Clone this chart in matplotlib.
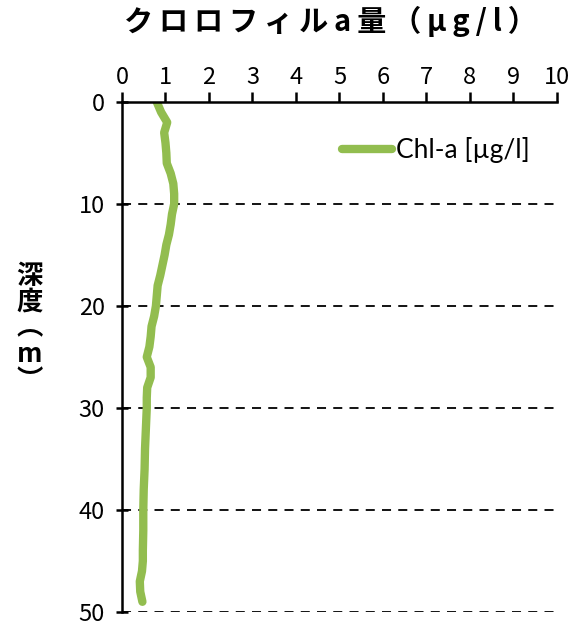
import matplotlib
matplotlib.use('Agg')
import matplotlib.pyplot as plt

plt.rcParams['font.family'] = ['Noto Sans CJK JP', 'DejaVu Sans']

# depth (m) and chlorophyll-a (ug/l)
depth = [0, 1, 2, 3, 4, 5, 6, 7, 8, 9, 10, 11, 12, 13, 14, 15, 16, 17, 18, 19,
         20, 21, 22, 23, 24, 25, 26, 27, 28, 29, 30, 32, 34, 36, 38, 40, 42, 44,
         45, 46, 47, 48, 49]
chla = [0.80, 0.90, 1.04, 0.97, 1.00, 1.02, 1.03, 1.12, 1.18, 1.20, 1.20, 1.15,
        1.12, 1.08, 1.02, 0.98, 0.93, 0.88, 0.82, 0.80, 0.78, 0.74, 0.68, 0.66,
        0.63, 0.57, 0.66, 0.66, 0.58, 0.57, 0.57, 0.55, 0.53, 0.52, 0.50, 0.49,
        0.49, 0.48, 0.48, 0.46, 0.41, 0.42, 0.47]
xticks = list(range(0, 11))
yticks = [0, 10, 20, 30, 40, 50]

fig = plt.figure(figsize=(5.85, 6.25), dpi=100)
ax = fig.add_axes([0.2085, 0.0208, 0.952 - 0.2085, 0.8368 - 0.0208])

ax.plot(chla, depth, color='#92BD4F', lw=6, solid_capstyle='round',
        solid_joinstyle='round', label='Chl-a [µg/l]')

ax.set_xlim(0, 10)
ax.set_ylim(50, 0)
ax.xaxis.tick_top()
ax.set_xticks(xticks)
ax.set_yticks(yticks)
ax.tick_params(axis='x', direction='out', length=7, width=1.8, labelsize=17, pad=2)
ax.tick_params(axis='y', direction='inout', length=9, width=1.8, labelsize=17, pad=8)

for y in yticks[1:]:
    ax.axhline(y, color='black', lw=1.3, ls=(0, (5, 4)), zorder=0)

for s in ['right', 'bottom']:
    ax.spines[s].set_visible(False)
for s in ['top', 'left']:
    ax.spines[s].set_linewidth(1.8)

title = 'クロロフィルa量（μg/l）'
fig.text(0.565, 0.965, '\u2009'.join(title), ha='center', va='center',
         fontsize=21, fontweight='bold', family=['Noto Sans CJK JP', 'DejaVu Sans'])
fig.text(0.05, 0.475, '深\n度\n︵\nm\n︶', ha='center', va='center',
         fontsize=19, fontweight='bold', linespacing=0.95)

leg = ax.legend(loc='center left', bbox_to_anchor=(0.505, 0.906), frameon=False,
                prop={'family': 'Lato', 'size': 19}, handlelength=1.9,
                handletextpad=0.15, borderaxespad=0, borderpad=0)

fig.savefig('out.png', dpi=100)
